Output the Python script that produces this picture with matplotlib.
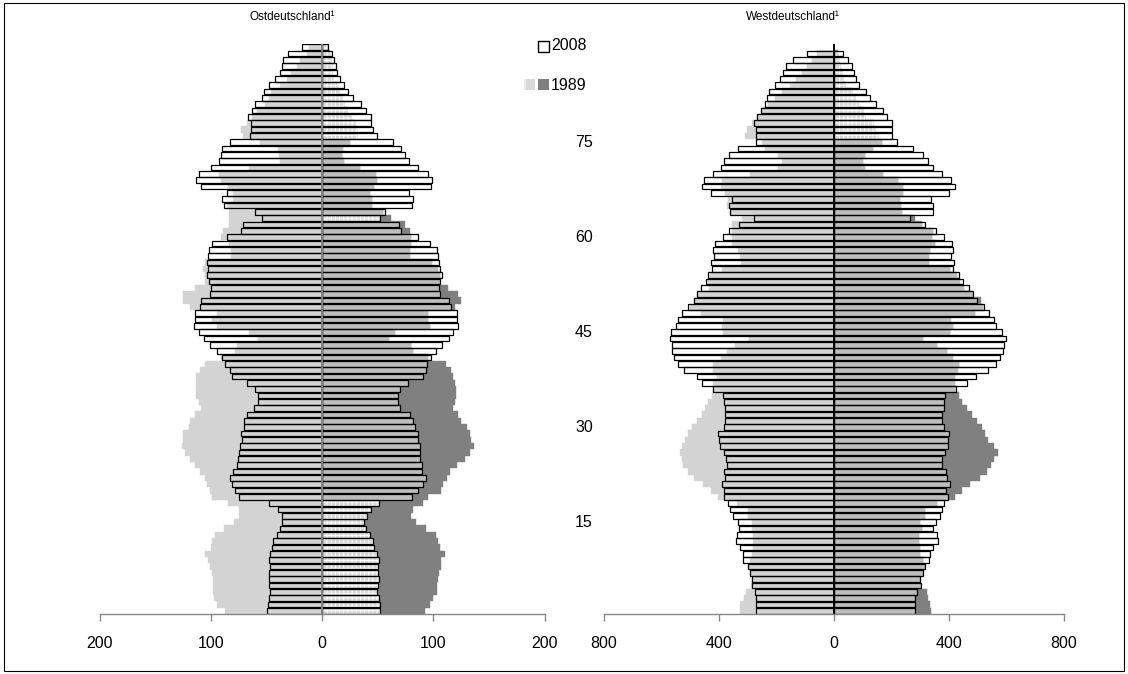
import numpy as np
import matplotlib.pyplot as plt
from matplotlib.patches import Rectangle
from matplotlib.transforms import blended_transform_factory

plt.rcParams['font.family'] = ['Liberation Sans', 'DejaVu Sans']
plt.rcParams['hatch.linewidth'] = 0.6

# values in 1000 persons per age year, listed from the oldest row (top) down to age 1
ost_f2008 = [18, 31, 35, 36, 38, 42, 48, 52, 54, 60, 63, 67, 64, 64, 65, 83, 90, 91, 93, 100,
             111, 113, 109, 86, 90, 88, 60, 54, 71, 73, 86, 99, 102, 103, 104, 103, 104, 102, 100, 101,
             109, 110, 114, 114, 115, 111, 106, 101, 95, 90, 87, 83, 81, 68, 60, 58, 58, 61, 68, 70,
             70, 73, 72, 74, 75, 76, 77, 80, 83, 81, 78, 75, 48, 40, 36, 36, 38, 41, 44, 45,
             47, 48, 47, 48, 48, 48, 47, 48, 49, 50]
ost_m2008 = [5.5, 9, 11, 12, 13, 16, 20, 23, 28, 35, 39, 44, 44, 46, 49, 64, 71, 74, 78, 86,
             95, 99, 98, 78, 82, 81, 56, 52, 69, 71, 86, 97, 103, 104, 105, 106, 108, 106, 105, 106,
             114, 116, 121, 121, 122, 118, 114, 108, 102, 98, 94, 93, 91, 77, 70, 68, 68, 70, 79, 82,
             83, 86, 86, 88, 88, 88, 90, 90, 93, 91, 86, 81, 51, 44, 40, 38, 39, 43, 46, 47,
             49, 51, 50, 50, 51, 50, 49, 51, 52, 52]
ost_f1989 = [12, 14, 20, 23, 28, 32, 38, 46, 48, 51, 59, 63, 68, 73, 71, 56, 40, 39, 38, 66,
             93, 91, 85, 80, 80, 86, 84, 84, 84, 89, 91, 84, 82, 82, 105, 107, 105, 105, 114, 125,
             125, 119, 95, 99, 95, 66, 58, 77, 78, 91, 105, 110, 113, 113, 113, 113, 111, 109, 114, 119,
             120, 125, 125, 126, 123, 119, 114, 110, 105, 104, 101, 99, 85, 75, 75, 79, 88, 96, 99, 100,
             105, 103, 101, 99, 98, 98, 98, 97, 95, 87]
ost_m1989 = [4, 7, 7.5, 8.5, 8.5, 10, 13, 15, 18, 19.5, 22, 25.5, 29.5, 31, 31.5, 25, 19, 18, 20, 34,
             48, 49, 47, 43, 44.5, 45, 55, 62, 74, 79, 80, 80, 79, 79, 99, 104, 106, 106, 113, 122,
             125, 119, 95, 95, 97, 65, 60, 80, 82, 95, 111, 116, 118, 119, 120, 120, 119, 118, 122, 125,
             130, 133, 134, 136, 133, 128, 121, 115, 112, 109, 107, 95, 91, 82, 80, 84, 93, 102, 104, 106,
             110, 107, 107, 105, 104, 103, 103, 100, 97, 92]

west_f2008 = [93, 140, 165, 175, 187, 204, 225, 233, 239,
              254, 266, 276, 269, 269, 269, 334, 363, 380, 392, 421, 450, 457, 428, 353, 363, 360, 276, 328, 363,
              386, 413, 421, 418, 427, 423, 438, 445, 462, 474, 486, 508, 529, 541, 548, 566, 568, 561, 564, 554,
              543, 520, 477, 457, 421, 386, 380, 378, 378, 378, 382, 404, 399, 396, 380, 375, 372, 380, 378, 390,
              380, 380, 367, 360, 351, 334, 329, 338, 341, 326, 317, 316, 298, 291, 285, 285, 274, 271, 271, 271]
west_m2008 = [34, 51, 63, 70, 77, 88, 113, 126, 147,
              173, 184, 202, 202, 204, 219, 275, 309, 329, 347, 378, 407, 422, 401, 339, 347, 347, 266, 316, 356,
              382, 411, 414, 407, 419, 414, 436, 448, 469, 486, 498, 523, 541, 556, 565, 587, 599, 592, 590, 577,
              565, 538, 494, 465, 426, 387, 382, 382, 378, 378, 382, 401, 397, 397, 387, 378, 376, 390, 393, 403,
              391, 399, 385, 376, 371, 356, 347, 358, 362, 347, 335, 332, 318, 309, 300, 304, 290, 284, 282, 282]
west_f1989 = [59, 77, 94, 109, 132, 152, 179, 204, 230,
              253, 268, 285, 302, 309, 251, 239, 193, 181, 193, 291, 390, 392, 378, 367, 372, 361, 320, 355, 355,
              355, 355, 334, 326, 322, 390, 430, 436, 434, 476, 486, 500, 462, 384, 390, 384, 295, 343, 372, 392,
              419, 419, 407, 419, 419, 425, 436, 448, 459, 477, 492, 506, 517, 529, 535, 529, 523, 506, 485, 454,
              427, 401, 338, 299, 297, 285, 285, 280, 280, 280, 285, 291, 295, 291, 285, 288, 304, 313, 327, 327]
west_m1989 = [16, 19, 22, 28, 34, 39, 63, 74, 86,
              103, 109, 135, 144, 155, 167, 135, 109, 103, 109, 171, 223, 242, 240, 231, 234, 237, 283, 306, 347,
              341, 353, 335, 332, 332, 403, 428, 440, 454, 486, 513, 521, 490, 408, 416, 405, 312, 361, 393, 416,
              437, 434, 422, 422, 422, 436, 445, 463, 480, 498, 515, 527, 538, 556, 570, 556, 548, 532, 509, 474,
              445, 422, 358, 318, 316, 300, 306, 295, 295, 300, 300, 312, 316, 309, 300, 304, 325, 329, 336, 340]

age_labels = [15, 30, 45, 60, 75]
ost_checker = list(range(76, 91)) + [63] + list(range(1, 19))
west_checker = list(range(76, 90))

LIGHT = '#d3d3d3'
DARK = '#808080'
MID = '#bdbdbd'
CHECK = '#d9d9d9'

W, H = 1128, 674
fig = plt.figure(figsize=(W / 100, H / 100), dpi=100)
axL = fig.add_axes([99.7 / W, 60 / H, 445 / W, 570 / H])
axR = fig.add_axes([603.7 / W, 60 / H, 460 / W, 570 / H])


def pyramid(ax, f2008, m2008, f1989, m1989, checker, lim, ticks, centre_color):
    n = len(f2008)
    ages = np.arange(n, 0, -1)
    f2008, m2008 = np.array(f2008, float), np.array(m2008, float)
    f1989, m1989 = np.array(f1989, float), np.array(m1989, float)
    ax.barh(ages, -f1989, height=1.0, color=LIGHT, edgecolor=LIGHT, linewidth=0.3)
    ax.barh(ages, m1989, height=1.0, color=DARK, edgecolor=DARK, linewidth=0.3)
    inner = np.minimum(m1989, m2008)
    chk = np.isin(ages, checker)
    ax.barh(ages[~chk], inner[~chk], height=0.85, color=MID, linewidth=0)
    ax.barh(ages[chk], inner[chk], height=0.85, color=CHECK, linewidth=0)
    ax.barh(ages[chk], inner[chk], height=0.85, facecolor='none', edgecolor='white',
            hatch='++++', linewidth=0)
    ax.barh(ages, -f2008, height=0.85, facecolor='none', edgecolor='black', linewidth=0.9)
    ax.barh(ages, m2008, height=0.85, facecolor='none', edgecolor='black', linewidth=0.9)
    ax.axvline(0, color=centre_color, linewidth=1.4)
    ax.set_xlim(-lim, lim)
    ax.set_ylim(0.5, 90.5)
    ax.set_xticks(ticks)
    ax.set_xticklabels([str(abs(t)) for t in ticks])
    ax.set_yticks([])
    for s in ['left', 'right', 'top']:
        ax.spines[s].set_visible(False)
    ax.spines['bottom'].set_color('#868686')
    ax.spines['bottom'].set_linewidth(1.0)
    ax.tick_params(axis='x', direction='out', length=5, width=1.0, color='#868686',
                   labelsize=11.5, pad=11)


pyramid(axL, ost_f2008, ost_m2008, ost_f1989, ost_m1989, ost_checker, 200,
        [-200, -100, 0, 100, 200], '#808080')
pyramid(axR, west_f2008, west_m2008, west_f1989, west_m1989, west_checker, 800,
        [-800, -400, 0, 400, 800], 'black')

fig.text(292 / W, 1 - 17 / H, 'Ostdeutschland¹', ha='center', va='center', fontsize=8.5)
fig.text(793 / W, 1 - 17 / H, 'Westdeutschland¹', ha='center', va='center', fontsize=8.5)

btr = blended_transform_factory(fig.transFigure, axL.transData)
for a in age_labels:
    fig.text(584 / W, a, str(a), transform=btr, ha='center', va='center', fontsize=11.5)

# legend
fig.patches.append(Rectangle((538 / W, 1 - 52 / H), 11 / W, 11 / H, transform=fig.transFigure,
                             facecolor='white', edgecolor='black', linewidth=1.0))
fig.patches.append(Rectangle((524 / W, 1 - 90 / H), 11 / W, 11 / H, transform=fig.transFigure,
                             facecolor=CHECK, edgecolor='white', hatch='+', linewidth=0))
fig.patches.append(Rectangle((538 / W, 1 - 90 / H), 11 / W, 11 / H, transform=fig.transFigure,
                             facecolor=DARK, linewidth=0))
fig.text(551 / W, 1 - 46 / H, '2008', ha='left', va='center', fontsize=11.5)
fig.text(551 / W, 1 - 85 / H, '1989', ha='left', va='center', fontsize=11.5)

# outer frame
fig.patches.append(Rectangle((4 / W, 3 / H), 1120 / W, 668 / H, transform=fig.transFigure,
                             facecolor='none', edgecolor='black', linewidth=0.8))

fig.savefig('out.png', dpi=100)
